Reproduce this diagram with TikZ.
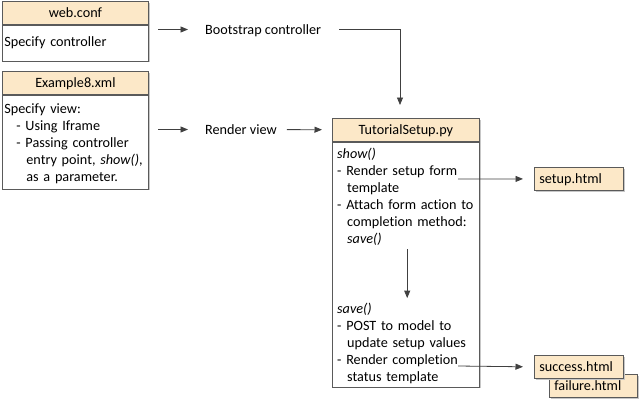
\documentclass[tikz,border=0pt]{standalone}
\usepackage{fontspec}
\setmainfont{Carlito}[Ligatures=NoCommon]
\usetikzlibrary{arrows.meta,positioning,shadows}
\definecolor{filehead}{RGB}{252,232,200}
\definecolor{fileline}{RGB}{90,90,90}
\definecolor{flowline}{RGB}{64,64,64}
\newcommand\flowfont{\fontsize{14.2}{17}\selectfont}
\newcommand\hang{\hspace*{10pt}}
\newcommand\subhang{\hspace*{12pt}}
\begin{document}
\begin{tikzpicture}[x=1pt, y=-1pt, font=\flowfont,
    boxshadow/.style={drop shadow={shadow xshift=1.2pt, shadow yshift=-1.2pt, fill=black!22, opacity=1}},
    headbox/.style={draw=fileline, line width=.8pt, fill=filehead, boxshadow, minimum width=146pt, minimum height=23pt,
      text height=12pt, text depth=3pt, inner sep=0pt, anchor=north west},
    bodybox/.style={draw=fileline, line width=.8pt, fill=white, boxshadow, minimum width=146pt, text width=142pt,
      inner xsep=2pt, inner ysep=0pt, align=left, anchor=north},
    htmlbox/.style={draw=fileline, line width=.8pt, fill=filehead, boxshadow, minimum width=89pt, minimum height=23pt,
      text width=79pt, inner xsep=5pt, inner ysep=0pt, align=left, text height=12pt, text depth=3pt, anchor=north west},
    steptext/.style={text height=12pt, text depth=3pt, inner sep=0pt, anchor=base west},
    codetext/.style={text width=140pt, inner sep=0pt, align=left, anchor=north west},
    flow/.style={draw=flowline, line width=.8pt, -{Triangle[length=7.5pt,width=6pt]}}]
  \useasboundingbox (0,0) rectangle (640,400);
  % web.conf
  \node[headbox] (confhead) at (2,1) {web.conf};
  \node[bodybox, minimum height=36pt, below=0pt of confhead] (confbody) {\strut Specify controller};
  % Example8.xml
  \node[headbox] (xmlhead) at (2,71) {Example8.xml};
  \node[bodybox, minimum height=94pt, below=0pt of xmlhead] (xmlbody) {\strut Specify view:\\
    \subhang- Using Iframe\\
    \subhang- Passing controller\\
    \subhang\hang entry point, \textit{show()},\\
    \subhang\hang as a parameter.};
  % steps
  \node[steptext] (boot) at (205,34) {Bootstrap controller};
  \node[steptext] (render) at (205,134) {Render view};
  % TutorialSetup.py
  \node[headbox, minimum width=147pt] (tuthead) at (332,118) {TutorialSetup.py};
  \node[draw=fileline, line width=.8pt, fill=white, boxshadow, minimum width=147pt, minimum height=245pt, inner sep=0pt,
    below=0pt of tuthead] (tutbody) {};
  \node[codetext] (showtext) at (337,146.1) {\strut\textit{show()}\\
    - Render setup form\\
    \hang template\\
    - Attach form action to\\
    \hang completion method:\\
    \hang\textit{save()}};
  \node[codetext] (savetext) at (337,301.1) {\strut\textit{save()}\\
    - POST to model to\\
    \hang update setup values\\
    - Render completion\\
    \hang status template};
  % templates
  \node[htmlbox] (setup) at (534,167) {setup.html};
  \node[htmlbox, minimum width=88pt, text width=78pt] (failure) at (549,374) {failure.html};
  \node[htmlbox] (success) at (534,355) {success.html};
  % connectors
  \coordinate (confout) at (158,29.5);
  \coordinate (xmlout) at (158,129.5);
  \coordinate (bootdrop) at (400,105);
  \coordinate (setupout) at (458,179);
  \coordinate (successout) at (458,366);
  \draw[flow, shorten >=17pt] (confout) -- (boot);
  \draw[flow, shorten >=17pt] (xmlout) -- (render);
  \draw[flow, shorten <=10pt, shorten >=10pt] (render) -- (tuthead);
  \draw[flow] ([xshift=18pt]boot.east) -| (bootdrop);
  \draw[flow, shorten <=4pt, shorten >=3pt] (showtext.south) -- (savetext.north);
  \draw[flow, shorten >=11pt] (setupout) -- (setup.west);
  \draw[flow, shorten >=11pt] (successout) -- (success.west);
\end{tikzpicture}
\end{document}
